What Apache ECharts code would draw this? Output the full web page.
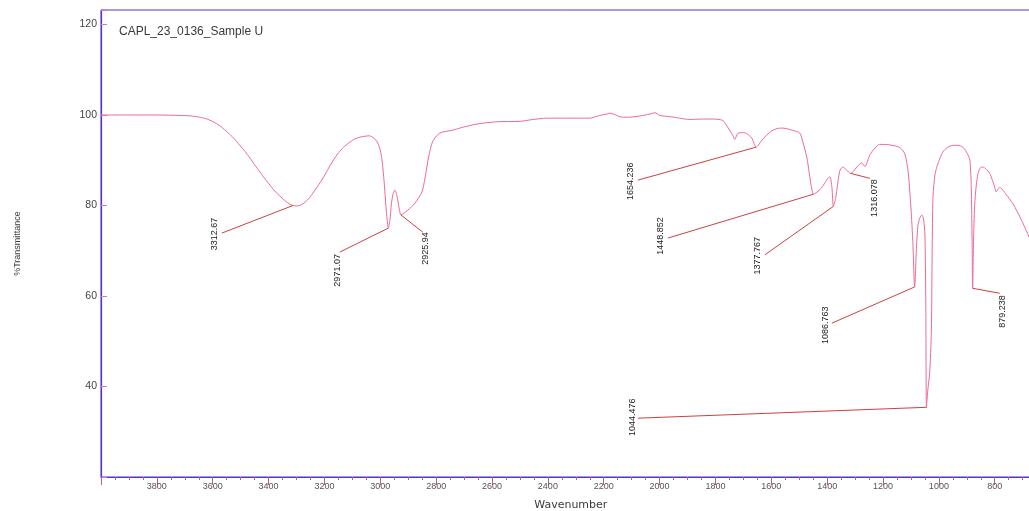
<!DOCTYPE html>
<html>
<head>
<meta charset="utf-8">
<script src="https://cdn.jsdelivr.net/npm/echarts@6/dist/echarts.min.js"></script>
<style>
  html, body { margin: 0; padding: 0; background: #ffffff; }
  #chart { width: 1029px; height: 511px; }
</style>
</head>
<body>
<div id="chart"></div>
<script>
// FTIR spectrum, %Transmittance against wavenumber (cm-1), high to low
const wavenumbers = [
  4000, 3900, 3800, 3718, 3680, 3646, 3620, 3592, 3570, 3546, 3525, 3503, 3485, 3467, 3450,
  3431, 3413, 3395, 3378, 3360, 3342, 3324, 3312.67, 3299, 3285, 3270, 3252, 3234, 3216, 3199,
  3181, 3163, 3145, 3127, 3109, 3091, 3073, 3055, 3040, 3030, 3018, 3009, 3000, 2994, 2988,
  2984, 2978, 2971.07, 2966, 2960, 2954, 2948, 2940, 2932, 2925.94, 2918, 2901, 2876, 2851, 2840,
  2826, 2812, 2787, 2744, 2704, 2654, 2583, 2500, 2454, 2404, 2332, 2250, 2214, 2190, 2178,
  2160, 2142, 2114, 2070, 2035, 2017, 1999, 1960, 1928, 1892, 1850, 1809, 1774, 1756, 1738,
  1731, 1720, 1700, 1688, 1670, 1654.236, 1634, 1605, 1580, 1559, 1523, 1498, 1487, 1473, 1462,
  1455, 1448.852, 1440, 1426, 1410, 1398, 1390, 1383, 1377.767, 1370, 1365, 1355, 1344, 1330, 1316.078,
  1305, 1294, 1276, 1265, 1247, 1229, 1212, 1176, 1140, 1122, 1110, 1104, 1098, 1093, 1086.763,
  1080, 1075, 1068, 1061, 1055, 1050, 1047, 1044.476, 1040, 1033, 1027, 1024, 1021, 1014, 1007,
  997, 986, 970, 950, 932, 915, 907, 896, 889, 884, 881, 879.238, 876, 872, 866,
  860, 853, 843, 830, 818, 808, 800, 795, 788, 782, 760, 735, 710, 683, 675
];
const transmittance = [
  100.0, 100.0, 100.0, 99.9, 99.8, 99.5, 99.1, 98.3, 97.4, 96.1, 94.9, 93.3, 92.0, 90.5, 89.0,
  87.4, 85.9, 84.5, 83.2, 82.1, 81.1, 80.3, 80.0, 79.9, 80.1, 80.7, 81.8, 83.4, 85.0, 86.7,
  88.7, 90.5, 92.0, 93.1, 94.0, 94.7, 95.1, 95.3, 95.4, 95.2, 94.6, 93.8, 92.2, 90.1, 86.5,
  83.4, 78.5, 75.0, 76.5, 80.5, 82.6, 83.4, 82.0, 79.2, 77.9, 78.2, 79.0, 80.5, 83.0, 86.0,
  91.0, 94.2, 96.0, 96.6, 97.3, 98.0, 98.5, 98.6, 99.0, 99.3, 99.3, 99.3, 99.9, 100.2, 100.4,
  100.1, 99.6, 99.5, 99.8, 100.2, 100.5, 99.9, 99.6, 99.3, 99.0, 99.1, 99.1, 98.8, 97.3, 95.5,
  94.6, 95.9, 96.1, 95.9, 94.9, 92.9, 94.4, 96.2, 97.0, 97.1, 96.6, 96.0, 94.0, 90.7, 86.3,
  83.6, 82.5, 82.8, 83.5, 84.8, 86.0, 86.3, 84.0, 79.8, 81.5, 83.6, 87.6, 88.5, 87.8, 87.1,
  87.6, 88.5, 89.4, 88.6, 91.2, 92.7, 93.5, 93.4, 92.8, 91.4, 87.5, 83.0, 77.5, 71.5, 62.0,
  71.0, 75.5, 77.3, 77.9, 77.0, 73.5, 60.0, 35.4, 39.0, 43.0, 52.0, 70.0, 82.0, 86.8, 88.6,
  90.3, 91.8, 92.8, 93.3, 93.3, 92.9, 92.4, 91.2, 90.0, 84.0, 72.0, 61.7, 72.0, 80.0, 84.5,
  87.0, 88.2, 88.5, 88.0, 87.1, 85.5, 84.0, 83.0, 83.6, 84.0, 82.5, 80.4, 77.5, 73.9, 72.8
];

// Picked peaks (wavenumber and the label printed next to it)
const peakWavenumbers = [3312.67, 2971.07, 2925.94, 1654.236, 1448.852, 1377.767, 1316.078, 1086.763, 1044.476, 879.238];
const peakLabels = ['3312.67', '2971.07', '2925.94', '1654.236', '1448.852', '1377.767', '1316.078', '1086.763', '1044.476', '879.238'];

// Axis ticks
const xTickStep = 200;
const yTickLabels = [40, 60, 80, 100, 120];

// Where each peak's leader line ends (axis units) and how its label sits there
const leaderEnds = [
  [3567, 73.9], [3145, 69.7], [2848, 74.1], [2078, 85.6], [1970, 72.8],
  [1623, 69.1], [1247, 86.0], [1383, 54.0], [2078, 33.0], [782, 60.6]
];
// 'side': label column to the left of the line end; 'below': label hangs under it
const labelModes = ['side', 'below', 'below', 'side', 'side', 'side', 'below', 'side', 'side', 'below'];
const labelNudge = [[-3, 1], [-2, 2], [3, 0], [-3, 1], [-3, -2], [-3, 1], [5, 1], [-2, 2], [-1, -1], [3, 2]];

const FRAME = '#4a36d6';
const CURVE = '#ef6a90';
const LEADER = '#c9443d';
const TEXT = '#3a3a3a';
const FONT = 'Liberation Sans, Arial, sans-serif';

const spectrum = wavenumbers.map((w, i) => [w, transmittance[i]]);
const peakData = peakWavenumbers.map((w, i) => {
  const t = transmittance[wavenumbers.indexOf(w)];
  return [w, t, leaderEnds[i][0], leaderEnds[i][1], i];
});

const chart = echarts.init(document.getElementById('chart'), null, { renderer: 'canvas' });

chart.setOption({
  animation: false,
  backgroundColor: '#ffffff',
  title: {
    text: 'CAPL_23_0136_Sample U',
    left: 114,
    top: 21,
    textStyle: { fontSize: 12, fontWeight: 'normal', color: TEXT, fontFamily: FONT }
  },
  grid: {
    left: 101, top: 10, width: 949.6, height: 467,
    containLabel: false,
    outerBoundsMode: 'none',
    show: true, borderColor: FRAME, borderWidth: 1, backgroundColor: 'transparent'
  },
  xAxis: {
    type: 'value',
    inverse: true,
    min: 600,
    max: 4000,
    interval: xTickStep,
    name: 'Wavenumber',
    nameLocation: 'middle',
    nameGap: 23,
    nameTextStyle: { fontSize: 11, color: TEXT, fontFamily: 'DejaVu Sans, sans-serif', padding: [0, 10, 0, 0] },
    axisLine: { show: true, lineStyle: { color: FRAME, width: 1 } },
    axisTick: { show: true, inside: false, length: 8, lineStyle: { color: '#b65aa8', width: 1 } },
    minorTick: { show: true, splitNumber: 4, length: 3, lineStyle: { color: '#b65aa8', width: 1 } },
    axisLabel: {
      margin: 5, fontSize: 9, color: '#555', fontFamily: FONT,
      formatter: v => (v >= 800 && v <= 3800 && v % xTickStep === 0) ? String(v) : ''
    },
    splitLine: { show: false }
  },
  yAxis: {
    type: 'value',
    min: 20,
    max: 123.2,
    interval: 20,
    name: '%Transmittance',
    nameLocation: 'middle',
    nameGap: 79,
    nameTextStyle: { fontSize: 9, color: TEXT, fontFamily: FONT },
    axisLine: { show: true, lineStyle: { color: FRAME, width: 1.2 } },
    axisTick: { show: true, inside: true, length: 6, lineStyle: { color: '#e07a9a', width: 1 } },
    axisLabel: {
      margin: 4, fontSize: 10.5, color: '#444', fontFamily: FONT,
      formatter: v => yTickLabels.indexOf(v) >= 0 ? String(v) : ''
    },
    splitLine: { show: false }
  },
  series: [
    {
      name: 'spectrum',
      type: 'line',
      data: spectrum,
      showSymbol: false,
      symbol: 'none',
      smooth: 0.25,
      lineStyle: { color: CURVE, width: 1 },
      silent: true,
      z: 3
    },
    {
      name: 'peaks',
      type: 'custom',
      data: peakData,
      silent: true,
      z: 4,
      renderItem: (params, api) => {
        const idx = api.value(4);
        const p = api.coord([api.value(0), api.value(1)]);
        const e = api.coord([api.value(2), api.value(3)]);
        const mode = labelModes[idx];
        const nudge = labelNudge[idx];
        const textEl = {
          type: 'text',
          x: e[0] + nudge[0],
          y: e[1] + nudge[1],
          rotation: Math.PI / 2,
          style: {
            text: peakLabels[idx],
            fill: '#222',
            font: '9px ' + FONT,
            align: mode === 'side' ? 'center' : 'right',
            verticalAlign: mode === 'side' ? 'bottom' : 'middle'
          }
        };
        return {
          type: 'group',
          children: [
            {
              type: 'line',
              shape: { x1: p[0], y1: p[1], x2: e[0], y2: e[1] },
              style: { stroke: LEADER, lineWidth: 1 }
            },
            textEl
          ]
        };
      }
    }
  ]
});
</script>
</body>
</html>
